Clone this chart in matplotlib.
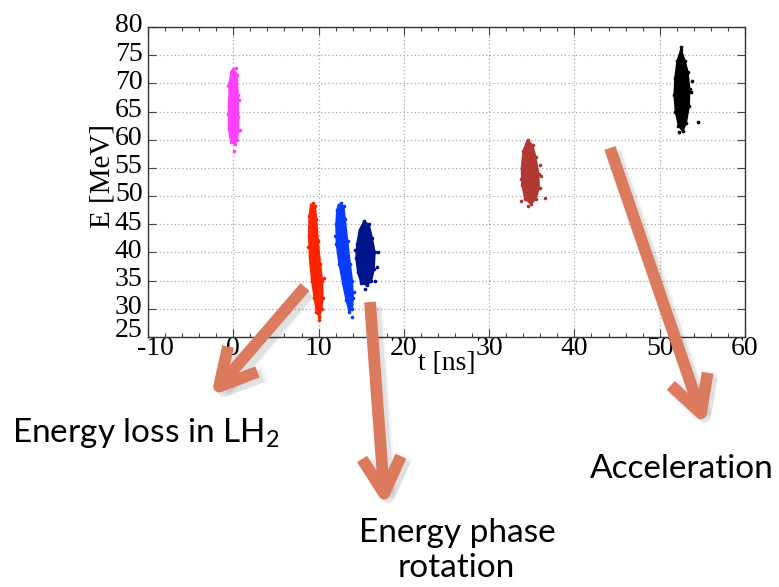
import matplotlib
matplotlib.use("Agg")
import matplotlib.pyplot as plt
from matplotlib.patches import FancyArrowPatch
from matplotlib.transforms import ScaledTranslation
from matplotlib.ticker import MultipleLocator

# ---- data: outlines of each bunch in (t [ns], E [MeV]) ----
magenta_t = [0.0, 0.45, 0.55, 0.6, 0.6, 0.45, 0.15, -0.3, -0.55, -0.55, -0.45, -0.25]
magenta_E = [72.6, 71.5, 68.0, 64.0, 61.5, 60.0, 59.2, 59.6, 62.0, 66.0, 70.0, 72.0]
magenta_out_t = [0.05, 0.75, -0.65, 0.65, -0.6, 0.3]
magenta_out_E = [58.0, 61.8, 64.5, 67.0, 69.5, 72.8]

red_t = [9.1, 9.6, 9.75, 9.95, 10.2, 10.45, 10.5, 10.35, 10.1, 9.75, 9.5, 9.2, 8.95, 8.85, 8.9]
red_E = [48.5, 48.3, 46.0, 42.0, 38.0, 35.0, 32.0, 30.0, 28.5, 29.5, 32.0, 35.0, 39.0, 43.0, 46.5]
red_out_t = [10.0, 10.65, 9.85, 8.75, 9.3]
red_out_E = [28.0, 35.5, 30.5, 41.0, 48.7]

blue_t = [12.35, 12.95, 13.1, 13.4, 13.7, 13.95, 14.05, 13.95, 13.6, 13.25, 12.85, 12.4, 12.1, 12.05, 12.15]
blue_E = [48.5, 48.2, 46.0, 42.0, 38.0, 35.0, 32.0, 30.0, 29.5, 31.5, 34.5, 38.0, 41.5, 45.0, 47.5]
blue_out_t = [13.9, 13.75, 14.2, 11.95, 12.6]
blue_out_E = [28.5, 30.8, 33.0, 43.0, 48.7]

navy_t = [15.3, 15.9, 16.3, 16.6, 16.5, 16.2, 15.7, 15.0, 14.6, 14.4, 14.5, 14.8]
navy_E = [45.5, 45.0, 42.5, 40.0, 37.0, 35.0, 34.2, 34.5, 36.5, 39.0, 41.5, 44.0]
navy_out_t = [16.8, 16.65, 16.95, 14.3, 15.5]
navy_out_E = [37.5, 35.0, 40.0, 40.5, 33.5]

brown_t = [34.5, 35.1, 35.45, 35.8, 35.85, 35.5, 34.9, 34.2, 33.85, 33.8, 34.0]
brown_E = [60.0, 59.0, 57.0, 54.0, 51.5, 49.5, 48.6, 49.5, 52.0, 55.0, 58.0]
brown_out_t = [36.1, 36.5, 36.0, 33.75, 34.6, 35.95, 33.7]
brown_out_E = [53.5, 49.6, 55.5, 49.2, 48.2, 51.5, 53.0]

black_t = [52.5, 52.95, 53.3, 53.5, 53.45, 53.1, 52.7, 52.2, 51.85, 51.7, 51.8, 52.05]
black_E = [76.0, 74.0, 72.0, 69.0, 66.0, 63.0, 61.5, 62.5, 65.0, 68.0, 71.0, 74.0]
black_out_t = [54.5, 53.75, 53.65, 52.55, 52.3]
black_out_E = [63.2, 70.5, 68.5, 76.5, 61.3]

bunches = [
    (magenta_t, magenta_E, magenta_out_t, magenta_out_E, "#ff40ff"),
    (red_t, red_E, red_out_t, red_out_E, "#ff2400"),
    (blue_t, blue_E, blue_out_t, blue_out_E, "#0a3cff"),
    (navy_t, navy_E, navy_out_t, navy_out_E, "#00148c"),
    (brown_t, brown_E, brown_out_t, brown_out_E, "#b03a32"),
    (black_t, black_E, black_out_t, black_out_E, "#000000"),
]

x_ticks = [-10, 0, 10, 20, 30, 40, 50, 60]
y_ticks = [25, 30, 35, 40, 45, 50, 55, 60, 65, 70, 75, 80]

W, H = 779, 587
fig = plt.figure(figsize=(W / 100, H / 100), dpi=100)
L, R, T, B = 148, 745, 27, 337
ax = fig.add_axes([L / W, 1 - B / H, (R - L) / W, (B - T) / H])

serif = "Liberation Serif"
for t, E, ot, oE, c in bunches:
    ax.fill(t, E, color=c, lw=1.2, ec=c, zorder=3)
    ax.scatter(t, E, s=7, color=c, zorder=3, lw=0)
    ax.scatter(ot, oE, s=7, color=c, zorder=3, lw=0)

ax.set_xlim(-10, 60)
ax.set_ylim(25, 80)
ax.set_xticks(x_ticks)
ax.set_yticks(y_ticks)
ax.set_xticklabels([str(v) for v in x_ticks], fontfamily=serif, fontsize=20)
ax.set_yticklabels([str(v) for v in y_ticks], fontfamily=serif, fontsize=20)
ax.xaxis.set_minor_locator(MultipleLocator(2))
ax.tick_params(which="both", direction="in", top=True, right=True, color="#444444")
ax.tick_params(which="major", length=6, width=0.8)
ax.tick_params(which="minor", length=3, width=0.8)
ax.tick_params(axis="x", pad=-1)
ax.tick_params(axis="y", pad=4)
for i, lab in enumerate(ax.get_yticklabels()):
    dy = 7 if i == 0 else 3
    lab.set_transform(lab.get_transform() + ScaledTranslation(0, dy / 72, fig.dpi_scale_trans))
xl0 = ax.get_xticklabels()[0]
xl0.set_transform(xl0.get_transform() + ScaledTranslation(5 / 72, 0, fig.dpi_scale_trans))
ax.grid(True, which="major", color="#a8a8a8", linestyle=(0, (1, 2)), lw=0.9)
for s in ax.spines.values():
    s.set_color("#333333")
    s.set_linewidth(1.0)

ax.set_xlabel("t [ns]", fontfamily=serif, fontsize=20)
ax.xaxis.set_label_coords(0.5, -0.045)
ax.text(-0.076, 0.52, "E [MeV]", rotation=90, transform=ax.transAxes,
        ha="center", va="center", fontfamily=serif, fontsize=21)

# ---- annotation arrows (figure pixel coords) ----
def px(x, y):
    return (x / W, 1 - y / H)

arrow_color = "#dc7a5e"
style = "->,head_length=26,head_width=14"
arrows = [((305, 287), (211, 396)), ((370, 302), (385, 506)), ((610, 148), (705, 425))]
for (x0, y0), (x1, y1) in arrows:
    for lw_s, a in [(13, 0.03), (10.5, 0.04), (9, 0.05)]:
        sh = FancyArrowPatch(px(x0 + 4, y0 + 5), px(x1 + 4, y1 + 5), transform=fig.transFigure,
                             arrowstyle=style, lw=lw_s, color="#000000", alpha=a,
                             capstyle="butt", joinstyle="round", shrinkA=0, shrinkB=0)
        fig.add_artist(sh)
    ar = FancyArrowPatch(px(x0, y0), px(x1, y1), transform=fig.transFigure,
                         arrowstyle=style, lw=8.5, color=arrow_color,
                         capstyle="butt", joinstyle="round", shrinkA=0, shrinkB=0)
    fig.add_artist(ar)

plt.rcParams["mathtext.fontset"] = "custom"
plt.rcParams["mathtext.rm"] = "Lato"
plt.rcParams["mathtext.it"] = "Lato"
sans = "Lato"
fs = 24
fig.text(*px(12, 442), "Energy loss in LH$_\\mathrm{2}$", fontfamily=sans, fontsize=fs,
         ha="left", va="baseline")
fig.text(*px(457, 542), "Energy phase", fontfamily=sans, fontsize=fs, ha="center", va="baseline")
fig.text(*px(456, 577), "rotation", fontfamily=sans, fontsize=fs, ha="center", va="baseline")
fig.text(*px(590, 478), "Acceleration", fontfamily=sans, fontsize=fs, ha="left", va="baseline")

fig.savefig("out.png", dpi=100)
